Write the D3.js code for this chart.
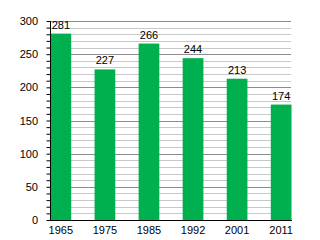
<!DOCTYPE html>
<html>
<head>
  <script src="https://d3js.org/d3.v7.min.js"></script>
  <style>
    body { margin: 0; background: #fff; }
    text { font-family: "Liberation Sans", Arial, sans-serif; }
  </style>
</head>
<body>
<div id="chart"></div>
<script>
  const years = ["1965", "1975", "1985", "1992", "2001", "2011"];
  const population = [281, 227, 266, 244, 213, 174];
  const majorTicks = [0, 50, 100, 150, 200, 250, 300];

  const width = 320;
  const height = 240;
  const margin = {top: 21, right: 29, bottom: 20, left: 50};

  const svg = d3.select("#chart")
          .append("svg")
          .attr("width", width)
          .attr("height", height);

  const x = d3.scaleBand()
          .domain(years)
          .range([margin.left + 0.5, width - margin.right + 0.5])
          .paddingInner(0.53)
          .paddingOuter(0);

  const y = d3.scaleLinear()
          .domain([0, 300])
          .range([height - margin.bottom, margin.top]);

  // minor gridlines every 10
  svg.append("g")
          .selectAll("line")
          .data(d3.range(10, 301, 10).filter(d => d % 50 !== 0))
          .join("line")
          .attr("x1", margin.left)
          .attr("x2", width - margin.right)
          .attr("y1", d => Math.round(y(d)) + 0.5)
          .attr("y2", d => Math.round(y(d)) + 0.5)
          .attr("stroke", "#c8c8c8");

  // major gridlines
  svg.append("g")
          .selectAll("line")
          .data(majorTicks.slice(1))
          .join("line")
          .attr("x1", margin.left)
          .attr("x2", width - margin.right)
          .attr("y1", d => Math.round(y(d)) + 0.5)
          .attr("y2", d => Math.round(y(d)) + 0.5)
          .attr("stroke", "#8c8c8c");

  svg.selectAll(".bar")
          .data(population)
          .join("rect")
          .attr("class", "bar")
          .attr("x", (d, i) => x(years[i]))
          .attr("width", x.bandwidth())
          .attr("y", d => y(d))
          .attr("height", d => y(0) - y(d))
          .attr("fill", "#00b04f");

  svg.selectAll(".label")
          .data(population)
          .join("text")
          .attr("class", "label")
          .attr("x", (d, i) => x(years[i]) + x.bandwidth() / 2)
          .attr("y", d => y(d) - 5)
          .attr("text-anchor", "middle")
          .attr("font-size", 11)
          .text(d => d);

  // y axis with minor ticks
  const yAxis = svg.append("g")
          .attr("transform", `translate(${margin.left + 0.5},0)`)
          .call(d3.axisLeft(y).tickValues(d3.range(0, 301, 10)).tickSize(4).tickFormat(""));
  yAxis.select(".domain").attr("d", `M0,${y(300)}V${y(0)}`);
  yAxis.selectAll("line").attr("stroke", "#000");

  svg.append("g")
          .selectAll("text")
          .data(majorTicks)
          .join("text")
          .attr("x", 38)
          .attr("y", d => y(d) + 4)
          .attr("text-anchor", "end")
          .attr("font-size", 11)
          .text(d => d);

  // x axis
  const xAxis = svg.append("g")
          .attr("transform", `translate(0,${Math.round(y(0)) + 0.5})`)
          .call(d3.axisBottom(x).tickSize(0).tickPadding(6));
  xAxis.select(".domain").attr("d", `M${margin.left},0H${width - margin.right + 1}`).attr("stroke", "#000");
  xAxis.selectAll("text").attr("font-size", 11).attr("font-family", "Liberation Sans, Arial, sans-serif").attr("fill", "#000");
</script>
</body>
</html>
